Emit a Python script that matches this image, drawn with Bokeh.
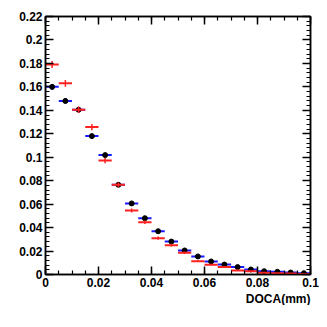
from bokeh.plotting import figure
from bokeh.models import (Range1d, FixedTicker, LinearAxis, CustomJSTickFormatter,
                          Title, ColumnDataSource)
from bokeh.embed import file_html
from bokeh.resources import INLINE

# ---- data ----
bin_width = 0.005
bin_centers = [0.0025, 0.0075, 0.0125, 0.0175, 0.0225, 0.0275, 0.0325, 0.0375, 0.0425, 0.0475,
               0.0525, 0.0575, 0.0625, 0.0675, 0.0725, 0.0775, 0.0825, 0.0875, 0.0925, 0.0975]
blue_values = [0.160, 0.148, 0.1405, 0.118, 0.1018, 0.0765, 0.0606, 0.048, 0.0369, 0.0281,
               0.0205, 0.0154, 0.0111, 0.0085, 0.0063, 0.0043, 0.0028, 0.0023, 0.0017, 0.0011]
blue_errors = [0.0024, 0.0022, 0.0021, 0.0019, 0.0018, 0.0015, 0.0014, 0.0012, 0.0011, 0.0009,
               0.0008, 0.0007, 0.0006, 0.0005, 0.0004, 0.0003, 0.0003, 0.0002, 0.0002, 0.0002]
red_values = [0.179, 0.163, 0.1405, 0.1257, 0.0972, 0.0765, 0.0546, 0.0446, 0.031, 0.025,
              0.0185, 0.0114, 0.0083, 0.0063, 0.0034, 0.0028, 0.0014, 0.0011, 0.0009, 0.0005]
red_errors = [0.0030, 0.0029, 0.0027, 0.0026, 0.0023, 0.0020, 0.0017, 0.0015, 0.0013, 0.0012,
              0.0010, 0.0008, 0.0007, 0.0006, 0.0005, 0.0004, 0.0003, 0.0002, 0.0002, 0.0001]

x_ticks = [0.0, 0.02, 0.04, 0.06, 0.08, 0.1]
x_minor = [i * 0.005 for i in range(21)]
y_ticks = [0.0, 0.02, 0.04, 0.06, 0.08, 0.1, 0.12, 0.14, 0.16, 0.18, 0.2, 0.22]
y_minor = [i * 0.004 for i in range(56)]
x_title = "DOCA(mm)"

FONT = "Liberation Sans"

src = ColumnDataSource(dict(
    x=bin_centers,
    x0=[c - bin_width / 2 for c in bin_centers],
    x1=[c + bin_width / 2 for c in bin_centers],
    by=blue_values,
    by0=[v - e for v, e in zip(blue_values, blue_errors)],
    by1=[v + e for v, e in zip(blue_values, blue_errors)],
    ry=red_values,
    ry0=[v - e for v, e in zip(red_values, red_errors)],
    ry1=[v + e for v, e in zip(red_values, red_errors)],
))

p = figure(frame_width=265, frame_height=258, output_backend="svg", toolbar_location=None,
           x_range=Range1d(0, 0.1), y_range=Range1d(0, 0.22),
           min_border_left=45, min_border_top=16, min_border_right=10, min_border_bottom=10,
           x_axis_location=None, y_axis_location=None)
p.grid.visible = False
p.outline_line_color = "black"
p.outline_line_width = 1.5
p.background_fill_color = "white"
p.border_fill_color = "white"

fmt = CustomJSTickFormatter(code="return tick.toFixed(2).replace(/0+$/,'').replace(/\\.$/,'');")
blank = CustomJSTickFormatter(code="return '';")


def make_axis(ticks, minor, labels):
    ax = LinearAxis(ticker=FixedTicker(ticks=ticks, minor_ticks=minor),
                    formatter=fmt if labels else blank)
    ax.major_tick_in = 8
    ax.major_tick_out = 0
    ax.minor_tick_in = 4
    ax.minor_tick_out = 0
    ax.axis_line_width = 1.5
    ax.major_tick_line_width = 1.5
    ax.minor_tick_line_width = 1.2
    ax.major_label_text_font = FONT
    ax.major_label_text_font_style = "bold"
    ax.major_label_text_font_size = "12px"
    ax.major_label_text_color = "black"
    ax.major_label_standoff = 3 if labels else 0
    return ax


p.add_layout(make_axis(x_ticks, x_minor, True), "below")
p.add_layout(make_axis(y_ticks, y_minor, True), "left")
p.add_layout(make_axis(x_ticks, x_minor, False), "above")
p.add_layout(make_axis(y_ticks, y_minor, False), "right")

# blue series
p.segment(x0="x0", y0="by", x1="x1", y1="by", source=src, line_color="#1a1aff", line_width=2)
p.segment(x0="x", y0="by0", x1="x", y1="by1", source=src, line_color="#1a1aff", line_width=2)
p.scatter(x="x", y="by", source=src, size=5, color="black")

# red series
p.segment(x0="x0", y0="ry", x1="x1", y1="ry", source=src, line_color="#ff2020", line_width=2)
p.segment(x0="x", y0="ry0", x1="x", y1="ry1", source=src, line_color="#ff2020", line_width=1.5)

p.add_layout(Title(text=x_title, align="right", text_font=FONT, text_font_style="bold",
                   text_font_size="12px", text_color="black", standoff=0, offset=0), "below")

open("out.html", "w").write(file_html(p, INLINE))
